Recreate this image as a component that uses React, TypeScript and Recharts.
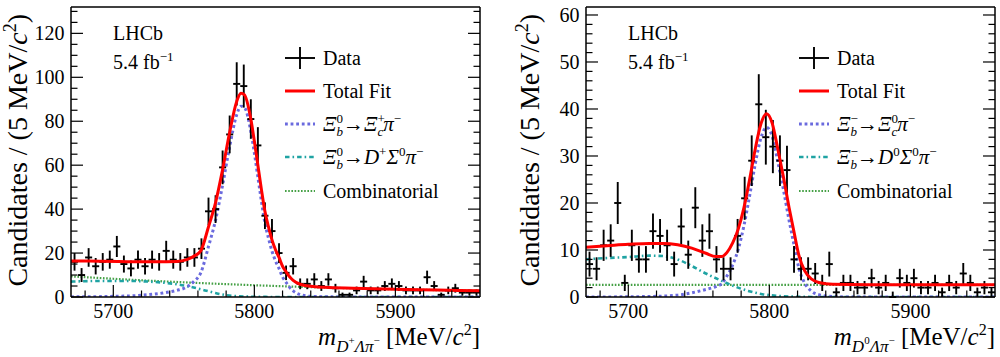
import React from 'react';
import { ComposedChart, Line, Scatter, XAxis, YAxis, ErrorBar } from 'recharts';

const FONT = '"Liberation Serif", "Times New Roman", serif';

// 5 MeV bins, centres
const MASS_BINS = [
  5672.5, 5677.5, 5682.5, 5687.5, 5692.5, 5697.5, 5702.5, 5707.5, 5712.5, 5717.5,
  5722.5, 5727.5, 5732.5, 5737.5, 5742.5, 5747.5, 5752.5, 5757.5, 5762.5, 5767.5,
  5772.5, 5777.5, 5782.5, 5787.5, 5792.5, 5797.5, 5802.5, 5807.5, 5812.5, 5817.5,
  5822.5, 5827.5, 5832.5, 5837.5, 5842.5, 5847.5, 5852.5, 5857.5, 5862.5, 5867.5,
  5872.5, 5877.5, 5882.5, 5887.5, 5892.5, 5897.5, 5902.5, 5907.5, 5912.5, 5917.5,
  5922.5, 5927.5, 5932.5, 5937.5, 5942.5, 5947.5, 5952.5, 5957.5,
];
const BIN_HALF_WIDTH = 2.5;

const LEFT_COUNTS = [
  16, 10, 18, 14, 16, 17, 23, 15, 13, 17,
  14, 17, 16, 21, 17, 16, 18, 18, 22, 39,
  40, 59, 74, 97, 96, 81, 69, 37, 30, 20,
  11, 14, 6, 6, 8, 5, 8, 4, 1, 1,
  3, 7, 3, 3, 5, 6, 5, 3, 3, 3,
  9, 5, 1, 3, 4, 2, 2, 2,
];
const RIGHT_COUNTS = [
  7, 6, 11, 12, 20, 3, 11, 8, 8, 14,
  13, 11, 7, 15, 9, 19, 12, 14, 8, 6,
  6, 13, 21, 29, 41, 34, 32, 29, 27, 8,
  6, 6, 5, 3, 7, 1, 3, 3, 2, 2,
  4, 2, 3, 0, 4, 3, 4, 2, 2, 3,
  1, 3, 2, 5, 3, 1, 2, 1,
];

// ---- left panel fit curves ----
const L_TOTAL_M = [5670, 5690, 5710, 5730, 5745, 5752, 5757, 5762, 5767.5, 5772.5, 5777.5, 5782.5, 5787.5, 5790.5, 5793, 5797.5, 5800, 5802.5, 5805, 5807.5, 5810, 5812.5, 5815, 5817.5, 5820, 5822.5, 5825, 5827.5, 5832.5, 5840, 5850, 5870, 5900, 5930, 5960];
const L_TOTAL = [16.4, 16.3, 16.1, 16.0, 16.2, 17, 18.5, 21, 32, 43, 58, 75, 89, 92.7, 92, 81, 71, 60, 49, 39, 32, 26, 21.5, 18, 14, 11.5, 9.2, 7.6, 5.8, 4.9, 4.4, 3.95, 3.5, 3.15, 2.8];
const L_SIG_M = [5670, 5700, 5720, 5735, 5745, 5752, 5757, 5762, 5767.5, 5772.5, 5777.5, 5782.5, 5787.5, 5790.5, 5793, 5797.5, 5800, 5802.5, 5805, 5807.5, 5810, 5812.5, 5815, 5817.5, 5820, 5822.5, 5825, 5827.5, 5832.5, 5840, 5850, 5870, 5960];
const L_SIG = [0.05, 0.3, 0.8, 1.8, 3.0, 4.5, 7.0, 11, 23, 35, 51, 68.5, 83, 86.8, 86.2, 75.4, 65.6, 54.7, 43.7, 33.7, 26.8, 20.9, 16.4, 13.0, 9.1, 6.7, 4.4, 2.8, 1.1, 0.3, 0.1, 0, 0];
const L_PART_M = [5670, 5690, 5710, 5730, 5745, 5752, 5757, 5762, 5767.5, 5772.5, 5777.5, 5785, 5800, 5820, 5960];
const L_PART = [7.0, 7.3, 7.3, 6.8, 5.8, 5.0, 4.3, 3.5, 2.6, 1.8, 1.1, 0.5, 0.1, 0, 0];
const L_COMB_M = [5670, 5700, 5730, 5760, 5790, 5820, 5850, 5880, 5910, 5940, 5960];
const L_COMB = [9.4, 8.3, 7.3, 6.4, 5.6, 4.9, 4.3, 3.8, 3.4, 3.0, 2.8];

// ---- right panel fit curves ----
const R_TOTAL_M = [5670, 5685, 5700, 5715, 5725, 5735, 5745, 5755, 5762, 5766, 5770, 5774, 5778, 5782, 5786, 5790, 5794, 5798, 5802, 5806, 5810, 5814, 5817.5, 5821, 5825, 5830, 5835, 5845, 5870, 5960];
const R_TOTAL = [10.6, 10.9, 11.2, 11.4, 11.4, 11.1, 10.4, 9.3, 8.6, 8.6, 9.5, 11.5, 14.5, 19, 25, 31.5, 36.8, 39, 37, 31.5, 25.5, 19, 13.8, 8.8, 5.6, 3.8, 3.1, 2.7, 2.6, 2.6];
const R_SIG_M = [5670, 5700, 5720, 5735, 5745, 5755, 5762, 5766, 5770, 5774, 5778, 5782, 5786, 5790, 5794, 5798, 5802, 5806, 5810, 5814, 5817.5, 5821, 5825, 5830, 5835, 5845, 5860, 5960];
const R_SIG = [0, 0.05, 0.15, 0.4, 0.9, 1.6, 2.2, 2.8, 4.5, 6.8, 10.2, 15.2, 21.5, 28.3, 33.8, 36.1, 34.2, 28.8, 22.8, 16.3, 11.1, 6.1, 3.0, 1.2, 0.5, 0.1, 0, 0];
const R_PART_M = [5670, 5685, 5700, 5715, 5725, 5735, 5745, 5755, 5765, 5775, 5785, 5795, 5805, 5820, 5840, 5960];
const R_PART = [8.0, 8.3, 8.5, 8.8, 8.7, 8.0, 6.6, 5.0, 3.6, 2.3, 1.3, 0.6, 0.25, 0.05, 0, 0];
const R_COMB_M = [5670, 5815, 5960];
const R_COMB = [2.6, 2.6, 2.6];

// ---- axes ----
const X_DOMAIN = [5670, 5960];
const X_TICKS = [5700, 5800, 5900];
const X_ALL_TICKS = [5680, 5700, 5720, 5740, 5760, 5780, 5800, 5820, 5840, 5860, 5880, 5900, 5920, 5940];
const LEFT_Y_MAX = 132;
const LEFT_Y_TICKS = [0, 20, 40, 60, 80, 100, 120];
const LEFT_Y_ALL = [0, 5, 10, 15, 20, 25, 30, 35, 40, 45, 50, 55, 60, 65, 70, 75, 80, 85, 90, 95, 100, 105, 110, 115, 120, 125, 130];
const RIGHT_Y_MAX = 61.7;
const RIGHT_Y_TICKS = [0, 10, 20, 30, 40, 50, 60];
const RIGHT_Y_ALL = [0, 2, 4, 6, 8, 10, 12, 14, 16, 18, 20, 22, 24, 26, 28, 30, 32, 34, 36, 38, 40, 42, 44, 46, 48, 50, 52, 54, 56, 58, 60];

const COL_RED = '#ff0000';
const COL_BLUE = '#6a6ade';
const COL_TEAL = '#1fa3a3';
const COL_GREEN = '#45a045';
const DASH_TEAL = '4.5 3 1.6 3';
const DASH_BLUE = '2.8 2.8';
const DASH_GREEN = '1.6 1.6';

const MAJOR_LEN = 12;
const MINOR_LEN = 6.5;
const DATA_STROKE = 1.9;

const toPts = (ms: number[], vs: number[]) => ms.map((m, i) => ({ x: m, y: vs[i] }));
const toData = (counts: number[]) =>
  counts.map((n, i) => ({ x: MASS_BINS[i], y: n, ey: n > 0 ? Math.sqrt(n) : [0, 1.15], ex: BIN_HALF_WIDTH }));

const renderNone = () => <g />;

const makeTick = (side: 'bottom' | 'top' | 'left' | 'right', majors: number[]) => (props: any) => {
  const { x, y, payload } = props;
  const v = payload.value;
  const major = majors.includes(v);
  const len = major ? MAJOR_LEN : MINOR_LEN;
  let line;
  let label = null;
  if (side === 'bottom') {
    line = <line x1={x} x2={x} y1={y} y2={y - len} stroke="#000" strokeWidth={1.2} />;
    if (major) label = <text x={x} y={y + 21} textAnchor="middle" fontSize={20} fontFamily={FONT} fill="#000">{v}</text>;
  } else if (side === 'top') {
    line = <line x1={x} x2={x} y1={y} y2={y + len} stroke="#000" strokeWidth={1.2} />;
  } else if (side === 'left') {
    line = <line x1={x} x2={x + len} y1={y} y2={y} stroke="#000" strokeWidth={1.2} />;
    if (major) label = <text x={x - 6.5} y={y + 7} textAnchor="end" fontSize={20} fontFamily={FONT} fill="#000">{v}</text>;
  } else {
    line = <line x1={x} x2={x - len} y1={y} y2={y} stroke="#000" strokeWidth={1.2} />;
  }
  return <g>{line}{label}</g>;
};

type PanelProps = {
  counts: number[];
  total: { x: number; y: number }[];
  sig: { x: number; y: number }[];
  part: { x: number; y: number }[];
  comb: { x: number; y: number }[];
  yMax: number;
  yTicks: number[];
  yAll: number[];
  marginLeft: number;
  marginRight: number;
};

function Panel(p: PanelProps) {
  const frame = { stroke: '#000', strokeWidth: 1.5 };
  const common = { type: 'number' as const, allowDataOverflow: true, interval: 0 as const, tickSize: 0, tickMargin: 0, tickLine: false };
  return (
    <ComposedChart
      width={500}
      height={357}
      margin={{ top: 6, bottom: 59, left: p.marginLeft, right: p.marginRight }}
    >
      <XAxis xAxisId="b" {...common} dataKey="x" orientation="bottom" height={1} domain={X_DOMAIN} ticks={X_ALL_TICKS} tick={makeTick('bottom', X_TICKS)} axisLine={frame} />
      <XAxis xAxisId="t" {...common} orientation="top" height={1} domain={X_DOMAIN} ticks={X_ALL_TICKS} tick={makeTick('top', X_TICKS)} axisLine={frame} />
      <YAxis yAxisId="l" {...common} orientation="left" width={1} domain={[0, p.yMax]} ticks={p.yAll} tick={makeTick('left', p.yTicks)} axisLine={frame} />
      <YAxis yAxisId="r" {...common} orientation="right" width={1} domain={[0, p.yMax]} ticks={p.yAll} tick={makeTick('right', p.yTicks)} axisLine={frame} />

      <Line xAxisId="b" yAxisId="l" data={p.comb} dataKey="y" type="monotone" stroke={COL_GREEN} strokeWidth={2.2} strokeDasharray={DASH_GREEN} dot={false} isAnimationActive={false} />
      <Line xAxisId="b" yAxisId="l" data={p.part} dataKey="y" type="monotone" stroke={COL_TEAL} strokeWidth={2.6} strokeDasharray={DASH_TEAL} dot={false} isAnimationActive={false} />
      <Line xAxisId="b" yAxisId="l" data={p.sig} dataKey="y" type="monotone" stroke={COL_BLUE} strokeWidth={3} strokeDasharray={DASH_BLUE} dot={false} isAnimationActive={false} />
      <Scatter xAxisId="b" yAxisId="l" data={toData(p.counts)} dataKey="y" shape={renderNone} isAnimationActive={false}>
        <ErrorBar dataKey="ey" direction="y" width={0} stroke="#000" strokeWidth={DATA_STROKE} />
        <ErrorBar dataKey="ex" direction="x" width={0} stroke="#000" strokeWidth={DATA_STROKE} />
      </Scatter>
      <Line xAxisId="b" yAxisId="l" data={p.total} dataKey="y" type="monotone" stroke={COL_RED} strokeWidth={3} dot={false} isAnimationActive={false} />
    </ComposedChart>
  );
}

const SUP = 13;

function LegendBlock({ lx, tx, right }: { lx: number; tx: number; right: boolean }) {
  const rows = [58, 91, 124, 157, 191];
  const t = (y: number) => y + 7;
  return (
    <g fontFamily={FONT} fill="#000">
      <line x1={lx} x2={lx + 30} y1={rows[0]} y2={rows[0]} stroke="#000" strokeWidth={DATA_STROKE} />
      <line x1={lx + 15} x2={lx + 15} y1={rows[0] - 11} y2={rows[0] + 11} stroke="#000" strokeWidth={DATA_STROKE} />
      <text x={tx} y={t(rows[0])} fontSize={20}>Data</text>

      <line x1={lx} x2={lx + 30} y1={rows[1]} y2={rows[1]} stroke={COL_RED} strokeWidth={3} />
      <text x={tx} y={t(rows[1])} fontSize={20}>Total Fit</text>

      <line x1={lx} x2={lx + 30} y1={rows[2]} y2={rows[2]} stroke={COL_BLUE} strokeWidth={3} strokeDasharray={DASH_BLUE} />
      {right ? (
        <text x={tx} y={t(rows[2])} fontSize={21}>
          <tspan fontStyle="italic">Ξ</tspan>
          <tspan fontSize={SUP} dy={-8}>−</tspan>
          <tspan fontSize={SUP} fontStyle="italic" dx={-7.3} dy={13}>b</tspan>
          <tspan dy={-5}>→</tspan>
          <tspan fontStyle="italic">Ξ</tspan>
          <tspan fontSize={SUP} dy={-8}>0</tspan>
          <tspan fontSize={SUP} fontStyle="italic" dx={-6.5} dy={13}>c</tspan>
          <tspan fontStyle="italic" dy={-5}>π</tspan>
          <tspan fontSize={SUP} dy={-8}>−</tspan>
        </text>
      ) : (
        <text x={tx} y={t(rows[2])} fontSize={21}>
          <tspan fontStyle="italic">Ξ</tspan>
          <tspan fontSize={SUP} dy={-8}>0</tspan>
          <tspan fontSize={SUP} fontStyle="italic" dx={-6.5} dy={13}>b</tspan>
          <tspan dy={-5}>→</tspan>
          <tspan fontStyle="italic">Ξ</tspan>
          <tspan fontSize={SUP} dy={-8}>+</tspan>
          <tspan fontSize={SUP} fontStyle="italic" dx={-7.3} dy={13}>c</tspan>
          <tspan fontStyle="italic" dy={-5}>π</tspan>
          <tspan fontSize={SUP} dy={-8}>−</tspan>
        </text>
      )}

      <line x1={lx} x2={lx + 30} y1={rows[3]} y2={rows[3]} stroke={COL_TEAL} strokeWidth={2.6} strokeDasharray={DASH_TEAL} />
      <text x={tx} y={t(rows[3])} fontSize={21}>
        <tspan fontStyle="italic">Ξ</tspan>
        <tspan fontSize={SUP} dy={-8}>{right ? '−' : '0'}</tspan>
        <tspan fontSize={SUP} fontStyle="italic" dx={right ? -7.3 : -6.5} dy={13}>b</tspan>
        <tspan dy={-5}>→</tspan>
        <tspan fontStyle="italic">D</tspan>
        <tspan fontSize={SUP} dy={-8}>{right ? '0' : '+'}</tspan>
        <tspan fontStyle="italic" dy={8}>Σ</tspan>
        <tspan fontSize={SUP} dy={-8}>0</tspan>
        <tspan fontStyle="italic" dy={8}>π</tspan>
        <tspan fontSize={SUP} dy={-8}>−</tspan>
      </text>

      <line x1={lx} x2={lx + 30} y1={rows[4]} y2={rows[4]} stroke={COL_GREEN} strokeWidth={2.2} strokeDasharray={DASH_GREEN} />
      <text x={tx} y={t(rows[4])} fontSize={20}>Combinatorial</text>
    </g>
  );
}

function YTitle({ x }: { x: number }) {
  return (
    <text transform={`rotate(-90 ${x} 14)`} x={x} y={14} fontSize={28} textAnchor="end">
      Candidates / (5 MeV/<tspan fontStyle="italic">c</tspan><tspan fontSize={18} dy={-11}>2</tspan><tspan dy={11}>)</tspan>
    </text>
  );
}

function XTitle({ x, dSup }: { x: number; dSup: string }) {
  return (
    <text x={x} y={345} fontSize={25} textAnchor="end">
      <tspan fontStyle="italic">m</tspan>
      <tspan fontSize={17} fontStyle="italic" dy={7}>D</tspan>
      <tspan fontSize={11} dy={-8}>{dSup}</tspan>
      <tspan fontSize={17} fontStyle="italic" dy={8}>Λπ</tspan>
      <tspan fontSize={11} dy={-8}>−</tspan>
      <tspan dy={1}> [MeV/</tspan>
      <tspan fontStyle="italic">c</tspan>
      <tspan fontSize={16} dy={-10}>2</tspan>
      <tspan dy={10}>]</tspan>
    </text>
  );
}

function Annotations() {
  return (
    <svg width={1000} height={357} style={{ position: 'absolute', left: 0, top: 0, pointerEvents: 'none' }}>
      <g fontFamily={FONT} fill="#000">
        <text x={113} y={40} fontSize={20}>LHCb</text>
        <text x={113} y={69} fontSize={20}>5.4 fb<tspan fontSize={SUP} dy={-8}>−1</tspan></text>
        <LegendBlock lx={285} tx={323} right={false} />
        <YTitle x={27} />
        <XTitle x={480} dSup="+" />

        <text x={628} y={40} fontSize={20}>LHCb</text>
        <text x={628} y={69} fontSize={20}>5.4 fb<tspan fontSize={SUP} dy={-8}>−1</tspan></text>
        <LegendBlock lx={799} tx={837} right={true} />
        <YTitle x={539} />
        <XTitle x={995} dSup="0" />
      </g>
    </svg>
  );
}

export default function App() {
  return (
    <div style={{ position: 'absolute', left: 0, top: 0, width: 1000, height: 357, background: '#fff', fontFamily: FONT }}>
      <div style={{ position: 'absolute', left: 0, top: 0 }}>
        <Panel
          counts={LEFT_COUNTS}
          total={toPts(L_TOTAL_M, L_TOTAL)}
          sig={toPts(L_SIG_M, L_SIG)}
          part={toPts(L_PART_M, L_PART)}
          comb={toPts(L_COMB_M, L_COMB)}
          yMax={LEFT_Y_MAX}
          yTicks={LEFT_Y_TICKS}
          yAll={LEFT_Y_ALL}
          marginLeft={70}
          marginRight={19}
        />
      </div>
      <div style={{ position: 'absolute', left: 500, top: 0 }}>
        <Panel
          counts={RIGHT_COUNTS}
          total={toPts(R_TOTAL_M, R_TOTAL)}
          sig={toPts(R_SIG_M, R_SIG)}
          part={toPts(R_PART_M, R_PART)}
          comb={toPts(R_COMB_M, R_COMB)}
          yMax={RIGHT_Y_MAX}
          yTicks={RIGHT_Y_TICKS}
          yAll={RIGHT_Y_ALL}
          marginLeft={85}
          marginRight={4}
        />
      </div>
      <Annotations />
    </div>
  );
}
